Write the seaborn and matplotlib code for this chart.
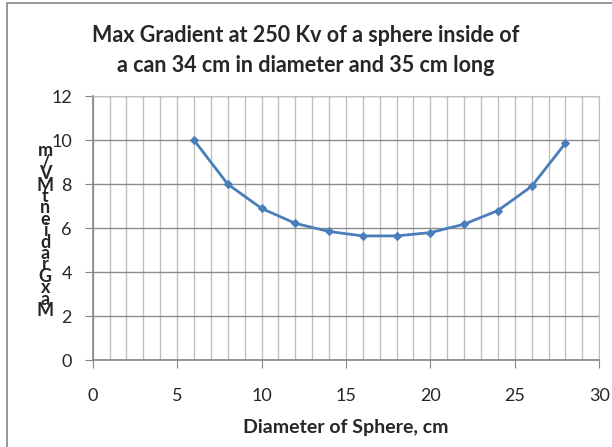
import matplotlib
matplotlib.use("Agg")
import matplotlib.pyplot as plt
import seaborn as sns
import pandas as pd
from matplotlib.ticker import MultipleLocator

diameter_cm = [6, 8, 10, 12, 14, 16, 18, 20, 22, 24, 26, 28]
max_gradient = [10.0, 8.0, 6.9, 6.22, 5.85, 5.65, 5.65, 5.8, 6.18, 6.8, 7.9, 9.86]

title = "Max Gradient at 250 Kv of a sphere inside of\na can 34 cm in diameter and 35 cm long"
xlabel = "Diameter of Sphere, cm"
ylabel = "MaxGradient MV/m"

sns.set_style("white")
plt.rcParams['font.family'] = ['Lato', 'DejaVu Sans']

df = pd.DataFrame({"d": diameter_cm, "g": max_gradient})

fig = plt.figure(figsize=(6.12, 4.47), dpi=100)
ax = fig.add_axes([0.1515, 0.194, 0.8275, 0.591])

sns.lineplot(data=df, x="d", y="g", ax=ax, color="#4A7EBB", linewidth=2,
             marker="D", markersize=4.5, markeredgecolor="#4A7EBB")

ax.set_xlim(0, 30)
ax.set_ylim(0, 12)
ax.xaxis.set_major_locator(MultipleLocator(5))
ax.xaxis.set_minor_locator(MultipleLocator(1))
ax.yaxis.set_major_locator(MultipleLocator(2))
ax.grid(which="minor", axis="x", color="#BFBFBF", linewidth=1)
ax.grid(which="major", axis="x", color="#BFBFBF", linewidth=1)
ax.grid(which="major", axis="y", color="#8C8C8C", linewidth=1)
ax.set_axisbelow(True)

for s in ["top", "right"]:
    ax.spines[s].set_color("#BFBFBF")
for s in ["left", "bottom"]:
    ax.spines[s].set_color("#868686")
    ax.spines[s].set_linewidth(1.2)

ax.tick_params(axis="both", which="major", direction="out", length=6,
               color="#868686", labelsize=13, left=True, bottom=True)
ax.tick_params(axis="y", which="major", pad=9)
ax.tick_params(axis="x", which="major", pad=14)
ax.tick_params(axis="both", which="minor", length=0)

ax.set_xlabel(xlabel, fontsize=14, fontweight="bold", labelpad=11)
ax.set_ylabel("")
fig.text(0.074, 0.484, "\n".join(reversed(ylabel.replace(" ", ""))),
         fontsize=13, fontweight="bold", ha="center", va="center",
         linespacing=0.6)

fig.text(0.5, 0.944, title, fontsize=15.5, fontweight="bold",
         ha="center", va="top", linespacing=1.5)

frame = plt.Rectangle((7 / 612, -0.1), 1.2, 1 - 3 / 447 + 0.1,
                      transform=fig.transFigure, fill=False,
                      edgecolor="#868686", linewidth=1.2)
fig.patches.append(frame)

fig.savefig("out.png", dpi=100)
